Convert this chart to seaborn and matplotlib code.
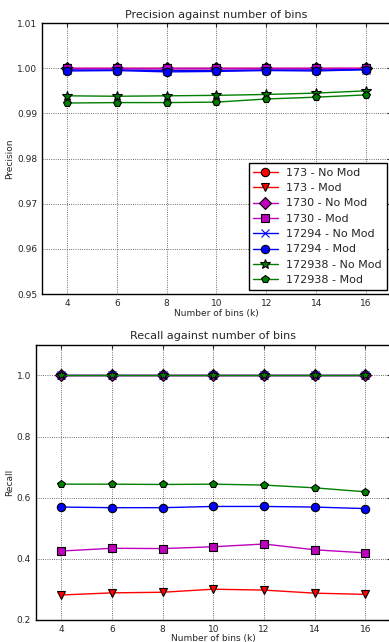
import numpy as np
import pandas as pd
import matplotlib
matplotlib.use("Agg")
import matplotlib.pyplot as plt
import seaborn as sns
from matplotlib.ticker import FormatStrFormatter

bins = [4, 6, 8, 10, 12, 14, 16]

labels = ["173 - No Mod", "173 - Mod", "1730 - No Mod", "1730 - Mod",
          "17294 - No Mod", "17294 - Mod", "172938 - No Mod", "172938 - Mod"]
colors = ["r", "r", "m", "m", "b", "b", "g", "g"]
markers = ["o", "v", "D", "s", "x", "o", "*", "p"]

precision_173_nomod = [1.0, 1.0, 1.0, 1.0, 1.0, 1.0, 1.0]
precision_173_mod = [1.0, 1.0, 1.0, 1.0, 1.0, 1.0, 1.0]
precision_1730_nomod = [1.0, 1.0, 1.0, 1.0, 1.0, 1.0, 1.0]
precision_1730_mod = [1.0, 1.0, 1.0, 1.0, 1.0, 1.0, 1.0]
precision_17294_nomod = [0.9996, 0.9996, 0.9995, 0.9995, 0.9996, 0.9996, 0.9997]
precision_17294_mod = [0.9994, 0.9995, 0.9992, 0.9993, 0.9995, 0.9994, 0.9997]
precision_172938_nomod = [0.9939, 0.9938, 0.9939, 0.9940, 0.9942, 0.9945, 0.9950]
precision_172938_mod = [0.9923, 0.9924, 0.9924, 0.9925, 0.9932, 0.9936, 0.9941]

recall_173_nomod = [1.0, 1.0, 1.0, 1.0, 1.0, 1.0, 1.0]
recall_173_mod = [0.281, 0.288, 0.290, 0.300, 0.297, 0.287, 0.283]
recall_1730_nomod = [1.0, 1.0, 1.0, 1.0, 1.0, 1.0, 1.0]
recall_1730_mod = [0.425, 0.434, 0.433, 0.439, 0.448, 0.429, 0.419]
recall_17294_nomod = [1.0, 1.0, 1.0, 1.0, 1.0, 1.0, 1.0]
recall_17294_mod = [0.569, 0.567, 0.567, 0.571, 0.571, 0.569, 0.564]
recall_172938_nomod = [1.0, 1.0, 1.0, 1.0, 1.0, 1.0, 1.0]
recall_172938_mod = [0.644, 0.644, 0.643, 0.644, 0.641, 0.632, 0.619]

precision = [precision_173_nomod, precision_173_mod, precision_1730_nomod, precision_1730_mod,
             precision_17294_nomod, precision_17294_mod, precision_172938_nomod, precision_172938_mod]
recall = [recall_173_nomod, recall_173_mod, recall_1730_nomod, recall_1730_mod,
          recall_17294_nomod, recall_17294_mod, recall_172938_nomod, recall_172938_mod]

sns.set_style("white")
plt.rcParams['font.family'] = ['DejaVu Sans']


def draw(ax, series, show_legend):
    for name, vals, c, m in zip(labels, series, colors, markers):
        ms = 7 if m == "*" else 6
        sns.lineplot(x=bins, y=vals, ax=ax, color=c, marker=m, markersize=ms,
                     markeredgecolor="k" if m != "x" else c, markeredgewidth=0.8,
                     linewidth=1, label=name, legend=show_legend)
    ax.set_xlim(3, 17)
    ax.set_xticks(bins)
    ax.grid(True, color="0.25", linestyle=":", linewidth=0.6)
    ax.tick_params(direction="in", labelsize=6.5, length=3, top=True, right=True)
    for s in ax.spines.values():
        s.set_color("k")
        s.set_linewidth(1)
    ax.set_xlabel("Number of bins (k)", fontsize=6.5, labelpad=1)


fig = plt.figure(figsize=(3.89, 6.42), dpi=100)
ax1 = fig.add_axes([0.108, 0.542, 0.897, 0.422])
ax2 = fig.add_axes([0.0925, 0.0347, 0.912, 0.428])

draw(ax1, precision, True)
ax1.set_ylim(0.95, 1.01)
ax1.set_yticks([0.95, 0.96, 0.97, 0.98, 0.99, 1.00, 1.01])
ax1.yaxis.set_major_formatter(FormatStrFormatter("%.2f"))
ax1.set_ylabel("Precision", fontsize=6.5, labelpad=2)
ax1.set_title("Precision against number of bins", fontsize=8, pad=4)
leg = ax1.legend(loc="lower right", fontsize=8, fancybox=False, framealpha=1,
                 edgecolor="k", borderaxespad=0.4, handlelength=2.2,
                 labelspacing=0.48, borderpad=0.4, handletextpad=0.8)
leg.get_frame().set_linewidth(1)

draw(ax2, recall, False)
ax2.set_ylim(0.2, 1.1)
ax2.set_yticks([0.2, 0.4, 0.6, 0.8, 1.0])
ax2.yaxis.set_major_formatter(FormatStrFormatter("%.1f"))
ax2.set_ylabel("Recall", fontsize=6.5, labelpad=2)
ax2.set_title("Recall against number of bins", fontsize=8, pad=4)
ax2.xaxis.labelpad = 0

fig.savefig("out.png", dpi=100)
